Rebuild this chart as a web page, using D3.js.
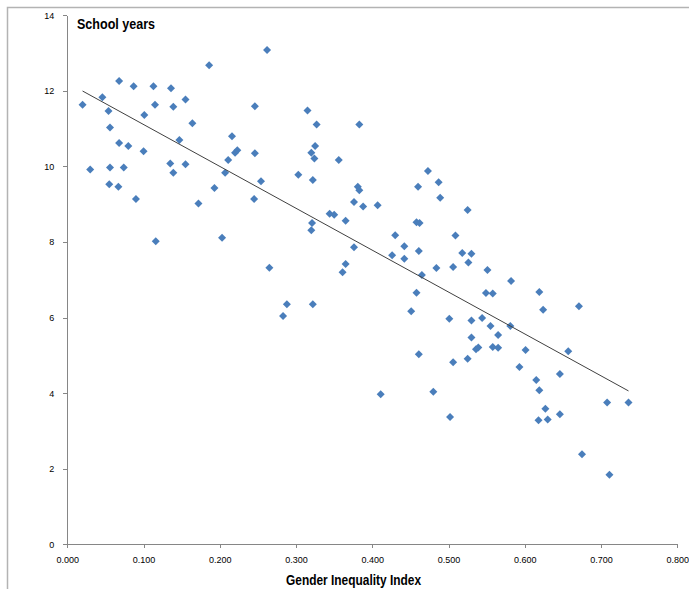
<!DOCTYPE html>
<html>
<head>
<meta charset="utf-8">
<script src="https://cdn.jsdelivr.net/npm/d3@7"></script>
<style>
    body { margin: 0; background: #fff; }
    .chart text { font-family: "Liberation Sans", Arial, sans-serif; }
    .axis path, .axis line { stroke: #868686; shape-rendering: crispEdges; }
    .axis text { font-size: 9px; fill: #000; }
</style>
</head>
<body>
<div class="chart"></div>
<script>
/* data */
const gii = [
    0.020, 0.030, 0.046, 0.054, 0.056, 0.056, 0.055, 0.068, 0.068, 0.067,
    0.080, 0.074, 0.087, 0.090, 0.101, 0.100, 0.113, 0.115, 0.136, 0.139,
    0.135, 0.139, 0.147, 0.155, 0.155, 0.164, 0.172, 0.186, 0.193, 0.207,
    0.211, 0.216, 0.220, 0.223, 0.246, 0.246, 0.254, 0.245, 0.262, 0.116,
    0.203, 0.315, 0.327, 0.383, 0.325, 0.320, 0.324, 0.356, 0.303, 0.322,
    0.381, 0.383, 0.376, 0.388, 0.407, 0.473, 0.460, 0.344, 0.350, 0.365,
    0.321, 0.320, 0.458, 0.462, 0.430, 0.442, 0.461, 0.376, 0.426, 0.442,
    0.265, 0.365, 0.361, 0.465, 0.458, 0.451, 0.288, 0.322, 0.283, 0.487,
    0.489, 0.525, 0.509, 0.518, 0.530, 0.526, 0.484, 0.506, 0.551, 0.501,
    0.530, 0.544, 0.555, 0.581, 0.582, 0.549, 0.558, 0.619, 0.624, 0.671,
    0.565, 0.530, 0.536, 0.539, 0.558, 0.565, 0.601, 0.657, 0.461, 0.506,
    0.525, 0.593, 0.646, 0.615, 0.619, 0.411, 0.480, 0.708, 0.736, 0.627,
    0.646, 0.502, 0.618, 0.630, 0.675, 0.711
]
const schoolYears = [
    11.63, 9.92, 11.83, 11.47, 11.03, 9.97, 9.53, 12.26, 10.62, 9.46,
    10.54, 9.97, 12.12, 9.14, 11.36, 10.40, 12.12, 11.63, 12.07, 11.58,
    10.08, 9.83, 10.70, 11.77, 10.06, 11.14, 9.02, 12.68, 9.43, 9.83,
    10.17, 10.80, 10.36, 10.43, 11.59, 10.35, 9.61, 9.14, 13.08, 8.02,
    8.11, 11.48, 11.11, 11.11, 10.54, 10.36, 10.21, 10.17, 9.78, 9.64,
    9.46, 9.37, 9.06, 8.94, 8.97, 9.88, 9.46, 8.75, 8.72, 8.56,
    8.50, 8.31, 8.52, 8.50, 8.18, 7.89, 7.76, 7.86, 7.65, 7.56,
    7.32, 7.42, 7.20, 7.13, 6.66, 6.17, 6.35, 6.35, 6.04, 9.58,
    9.17, 8.85, 8.17, 7.71, 7.69, 7.46, 7.31, 7.34, 7.26, 5.97,
    5.92, 5.99, 5.78, 5.78, 6.97, 6.65, 6.64, 6.68, 6.21, 6.30,
    5.54, 5.47, 5.16, 5.21, 5.22, 5.20, 5.14, 5.11, 5.03, 4.82,
    4.91, 4.69, 4.51, 4.35, 4.08, 3.97, 4.04, 3.75, 3.75, 3.59,
    3.44, 3.37, 3.28, 3.30, 2.38, 1.84
]
const xTicks = [0, 0.1, 0.2, 0.3, 0.4, 0.5, 0.6, 0.7, 0.8]
const yTicks = [0, 2, 4, 6, 8, 10, 12, 14]
const chartTitle = 'School years'
const xTitle = 'Gender Inequality Index'

const W = 689
const H = 589
const plot = { left: 67.3, top: 15.3, right: 677.3, bottom: 544.3 }

const svg = d3.select('.chart')
    .append('svg')
    .attr('width', W)
    .attr('height', H)

// outer chart border (only left/top fall inside the picture)
svg.append('rect')
    .attr('x', 7.5)
    .attr('y', 7.5)
    .attr('width', W + 20)
    .attr('height', H + 20)
    .style('fill', 'none')
    .style('stroke', '#b3b3b3')
    .style('stroke-width', 1.5)

const x = d3.scaleLinear().domain([0, 0.8]).range([plot.left, plot.right])
const y = d3.scaleLinear().domain([0, 14]).range([plot.bottom, plot.top])

/* axes */
svg.append('g')
    .attr('class', 'axis')
    .attr('transform', 'translate(0,' + plot.bottom + ')')
    .call(d3.axisBottom(x).tickValues(xTicks).tickFormat(d3.format('.3f')).tickSizeInner(4).tickSizeOuter(4).tickPadding(8))

svg.append('g')
    .attr('class', 'axis')
    .attr('transform', 'translate(' + plot.left + ',0)')
    .call(d3.axisLeft(y).tickValues(yTicks).tickSizeInner(4).tickSizeOuter(0).tickPadding(9))

/* points */
const points = gii.map((g, i) => ({ g: g, s: schoolYears[i] }))
const r = 4
svg.append('g')
    .selectAll('path')
    .data(points)
    .enter()
    .append('path')
    .attr('transform', d => 'translate(' + x(d.g) + ',' + y(d.s) + ')')
    .attr('d', 'M0,' + (-r) + 'L' + r + ',0L0,' + r + 'L' + (-r) + ',0Z')
    .style('fill', '#4a7ebb')

/* linear trend line (least squares) */
const mx = d3.mean(gii)
const my = d3.mean(schoolYears)
const slope = d3.sum(points, d => (d.g - mx) * (d.s - my)) / d3.sum(points, d => (d.g - mx) * (d.g - mx))
const icpt = my - slope * mx
const [x0, x1] = d3.extent(gii)
svg.append('line')
    .attr('x1', x(x0))
    .attr('y1', y(icpt + slope * x0))
    .attr('x2', x(x1))
    .attr('y2', y(icpt + slope * x1))
    .style('stroke', '#404040')
    .style('stroke-width', 1)

/* titles, squeezed to the narrow widths of the original face */
svg.append('text')
    .attr('x', 77)
    .attr('y', 29)
    .attr('textLength', 78)
    .attr('lengthAdjust', 'spacingAndGlyphs')
    .style('font-size', '15px')
    .style('font-weight', 'bold')
    .text(chartTitle)

svg.append('text')
    .attr('x', 286)
    .attr('y', 585)
    .attr('textLength', 135)
    .attr('lengthAdjust', 'spacingAndGlyphs')
    .style('font-size', '14px')
    .style('font-weight', 'bold')
    .text(xTitle)
</script>
</body>
</html>
